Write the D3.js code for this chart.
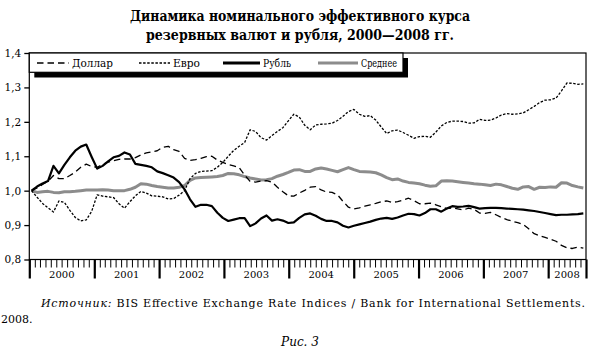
<!DOCTYPE html>
<html><head><meta charset="utf-8">
<script src="https://cdn.jsdelivr.net/npm/d3@7"></script>
<style>
html,body{margin:0;padding:0;background:#fff;}
svg{display:block;}
svg text{font-family:"DejaVu Serif","Liberation Serif","Noto Serif",serif !important;fill:#000;}
</style></head>
<body><svg id="c" width="600" height="356"></svg>
<script>
// ---- data ----
const titleLines = ["Динамика номинального эффективного курса", "резервных валют и рубля, 2000—2008 гг."];
const seriesNames = ["Доллар", "Евро", "Рубль", "Среднее"];
const yearLabels = ["2000","2001","2002","2003","2004","2005","2006","2007","2008"];
const yTicks = [0.8, 0.9, 1.0, 1.1, 1.2, 1.3, 1.4];
const firstMonth = "2000-01";
const lastMonth = "2008-06";
const dollar = [
 1.000,1.008,1.018,1.027,1.044,1.035,1.035,1.044,1.054,1.068,1.077,1.070,
 1.068,1.076,1.083,1.087,1.091,1.092,1.092,1.096,1.104,1.110,1.113,1.116,
 1.126,1.129,1.119,1.114,1.094,1.088,1.090,1.094,1.099,1.100,1.089,1.082,
 1.076,1.072,1.067,1.045,1.027,1.025,1.028,1.029,1.025,1.010,0.997,0.985,
 0.984,0.993,1.001,1.010,1.012,1.002,0.996,0.995,0.988,0.969,0.952,0.947,
 0.950,0.955,0.959,0.963,0.968,0.970,0.966,0.968,0.973,0.978,0.971,0.962,
 0.962,0.964,0.959,0.953,0.948,0.950,0.947,0.944,0.949,0.946,0.935,0.934,
 0.937,0.930,0.922,0.916,0.911,0.907,0.902,0.889,0.875,0.869,0.864,0.859,
 0.853,0.841,0.834,0.832,0.836,0.833];
const euro = [
 1.000,0.981,0.963,0.950,0.938,0.970,0.966,0.943,0.922,0.912,0.915,0.940,
 0.988,0.984,0.982,0.980,0.962,0.949,0.968,0.985,0.998,0.993,0.985,0.984,
 0.982,0.976,0.977,0.987,1.000,1.035,1.050,1.056,1.057,1.058,1.068,1.082,
 1.100,1.117,1.129,1.140,1.177,1.172,1.154,1.147,1.160,1.172,1.183,1.203,
 1.222,1.214,1.190,1.177,1.191,1.193,1.194,1.196,1.204,1.216,1.230,1.236,
 1.222,1.216,1.218,1.205,1.185,1.166,1.174,1.176,1.169,1.161,1.152,1.157,
 1.158,1.155,1.170,1.188,1.198,1.202,1.202,1.201,1.196,1.197,1.207,1.204,
 1.205,1.211,1.220,1.224,1.222,1.223,1.226,1.235,1.245,1.256,1.263,1.264,
 1.269,1.290,1.313,1.312,1.309,1.310];
const ruble = [
 1.000,1.012,1.021,1.028,1.072,1.050,1.075,1.097,1.116,1.128,1.134,1.098,
 1.064,1.072,1.085,1.097,1.101,1.111,1.105,1.078,1.075,1.072,1.068,1.056,
 1.051,1.045,1.038,1.025,1.004,0.975,0.953,0.959,0.959,0.955,0.936,0.921,
 0.912,0.916,0.920,0.920,0.897,0.905,0.919,0.928,0.913,0.917,0.913,0.906,
 0.908,0.921,0.931,0.934,0.927,0.918,0.912,0.912,0.908,0.898,0.893,0.898,
 0.902,0.906,0.910,0.915,0.919,0.921,0.918,0.922,0.928,0.933,0.932,0.928,
 0.935,0.946,0.946,0.939,0.948,0.955,0.953,0.954,0.956,0.952,0.948,0.949,
 0.950,0.950,0.949,0.948,0.947,0.946,0.945,0.943,0.941,0.938,0.935,0.932,
 0.929,0.930,0.930,0.931,0.932,0.934];
const average = [
 1.000,0.995,0.997,0.998,0.995,0.994,0.997,0.997,0.998,1.000,1.002,1.002,
 1.002,1.003,1.002,1.000,1.000,1.000,1.004,1.010,1.020,1.019,1.015,1.012,
 1.010,1.008,1.008,1.010,1.015,1.030,1.037,1.038,1.039,1.040,1.041,1.044,
 1.050,1.049,1.046,1.041,1.037,1.034,1.031,1.032,1.035,1.042,1.047,1.053,
 1.060,1.061,1.056,1.056,1.063,1.066,1.063,1.059,1.055,1.061,1.067,1.061,
 1.056,1.055,1.054,1.052,1.046,1.038,1.032,1.034,1.028,1.024,1.022,1.020,
 1.016,1.013,1.014,1.028,1.029,1.028,1.026,1.024,1.022,1.020,1.019,1.017,
 1.015,1.019,1.017,1.012,1.007,1.004,1.011,1.012,1.004,1.010,1.009,1.011,
 1.010,1.023,1.022,1.015,1.011,1.008];
const sourceItalic = "Источник:";
const sourceText = "BIS Effective Exchange Rate Indices / Bank for International Settlements.";
const sourceText2 = "2008.";
const figLabel = "Рис. 3";

// ---- layout ----
const FONT = "'DejaVu Serif','Liberation Serif','Noto Serif',serif";
const svg = d3.select("#c").attr("font-family", FONT);
const L = 29.3, R = 586, T = 53, B = 259.5;
const parse = d3.timeParse("%Y-%m");
const axisStart = new Date(2000, 0, 1), axisEnd = new Date(2008, 7, 1);
const x = d3.scaleTime().domain([axisStart, axisEnd]).range([L, R]);
const y = d3.scaleLinear().domain([0.8, 1.4]).range([B, T]);
const months = d3.timeMonth.range(parse(firstMonth), d3.timeMonth.offset(parse(lastMonth), 1));
// series points spread over the plotted period (mid-Jan 2000 to mid-Jul 2008)
const xi = d3.scaleLinear().domain([0, months.length - 1])
  .range([x(new Date(2000, 0, 14)), x(new Date(2008, 6, 17))]);

// title
const titleW = [340, 308];
svg.selectAll("text.title").data(titleLines).join("text")
  .attr("class", "title")
  .attr("x", 300).attr("y", (d, i) => 21 + i * 19)
  .attr("text-anchor", "middle")
  .attr("textLength", (d, i) => titleW[i]).attr("lengthAdjust", "spacingAndGlyphs")
  .style("font-weight", "bold").style("font-size", "14px")
  .text(d => d);

// lines
const seriesData = [dollar, euro, ruble, average];
const styles = [
  {stroke: "#000", width: 1.3, dash: "6.5,4"},
  {stroke: "#000", width: 1.3, dash: "2.5,1.6"},
  {stroke: "#000", width: 2.2, dash: null},
  {stroke: "#8c8c8c", width: 3, dash: null}
];
const line = d3.line().x((d, i) => xi(i)).y(d => y(d));
const order = [3, 1, 0, 2];
const gLines = svg.append("g");
order.forEach(k => {
  gLines.append("path").datum(seriesData[k])
    .attr("d", line).attr("fill", "none")
    .attr("stroke", styles[k].stroke).attr("stroke-width", styles[k].width)
    .attr("stroke-dasharray", styles[k].dash)
    .attr("stroke-linejoin", "round");
});

// frame
svg.append("rect").attr("x", L).attr("y", T).attr("width", R - L).attr("height", B - T)
  .attr("fill", "none").attr("stroke", "#000").attr("stroke-width", 1.2);

// y axis
const yAxis = svg.append("g").attr("transform", `translate(${L},0)`)
  .call(d3.axisLeft(y).tickValues(yTicks).tickSize(5).tickPadding(3)
    .tickFormat(d => d3.format(".1f")(d).replace(".", ",")));
yAxis.attr("font-family", FONT);
yAxis.select(".domain").remove();
yAxis.selectAll("line").attr("stroke", "#000").attr("stroke-width", 1.3);
yAxis.selectAll("text").style("font-size", "10.5px");

// x axis: monthly ticks
const xMinor = svg.append("g").attr("transform", `translate(0,${B})`)
  .call(d3.axisBottom(x).tickValues(d3.timeMonth.range(axisStart, axisEnd)).tickSize(8).tickFormat(""));
xMinor.select(".domain").remove();
xMinor.selectAll("line").attr("stroke", "#000").attr("stroke-width", 1);
// year separators
const yearStarts = yearLabels.map(s => new Date(+s, 0, 1)).concat([axisEnd]);
const xMajor = svg.append("g").attr("transform", `translate(0,${B})`)
  .call(d3.axisBottom(x).tickValues(yearStarts).tickSize(19).tickFormat(""));
xMajor.select(".domain").remove();
xMajor.selectAll("line").attr("stroke", "#000").attr("stroke-width", 2.2);
// year labels
svg.selectAll("text.year").data(yearLabels).join("text")
  .attr("class", "year")
  .attr("x", (d, i) => (x(yearStarts[i]) + x(yearStarts[i + 1])) / 2)
  .attr("y", B + 18)
  .attr("text-anchor", "middle").style("font-size", "10px")
  .text(d => d);

// legend
const lg = svg.append("g");
lg.append("rect").attr("x", L + 5).attr("y", T + 5).attr("width", 403 - L).attr("height", 19.5).attr("fill", "#000");
lg.append("rect").attr("x", L).attr("y", T).attr("width", 403 - L).attr("height", 19.3)
  .attr("fill", "#fff").attr("stroke", "#000").attr("stroke-width", 1.2);
const legX = [37, 139, 223, 318];
const legW = [32, 31, 37, 40];
const legTextW = [41, 27, 28, 36];
seriesNames.forEach((name, k) => {
  const ly = T + 10;
  lg.append("line").attr("x1", legX[k]).attr("x2", legX[k] + legW[k]).attr("y1", ly).attr("y2", ly)
    .attr("stroke", styles[k].stroke).attr("stroke-width", k >= 2 ? 3 : 1.6)
    .attr("stroke-dasharray", styles[k].dash);
  lg.append("text").attr("x", legX[k] + legW[k] + 3).attr("y", ly + 4)
    .attr("textLength", legTextW[k]).attr("lengthAdjust", "spacingAndGlyphs")
    .style("font-size", "11px").text(name);
});

// source
const src = svg.append("text").attr("x", 41).attr("y", 306.5).style("font-size", "11px")
  .attr("textLength", 585 - 41).attr("lengthAdjust", "spacing");
src.append("tspan").style("font-style", "italic").text(sourceItalic);
src.append("tspan").text(" " + sourceText);
svg.append("text").attr("x", 1).attr("y", 322.5).style("font-size", "11px").text(sourceText2);
svg.append("text").attr("x", 300).attr("y", 346).attr("text-anchor", "middle")
  .style("font-size", "12px").style("font-style", "italic").text(figLabel);
</script></body></html>
